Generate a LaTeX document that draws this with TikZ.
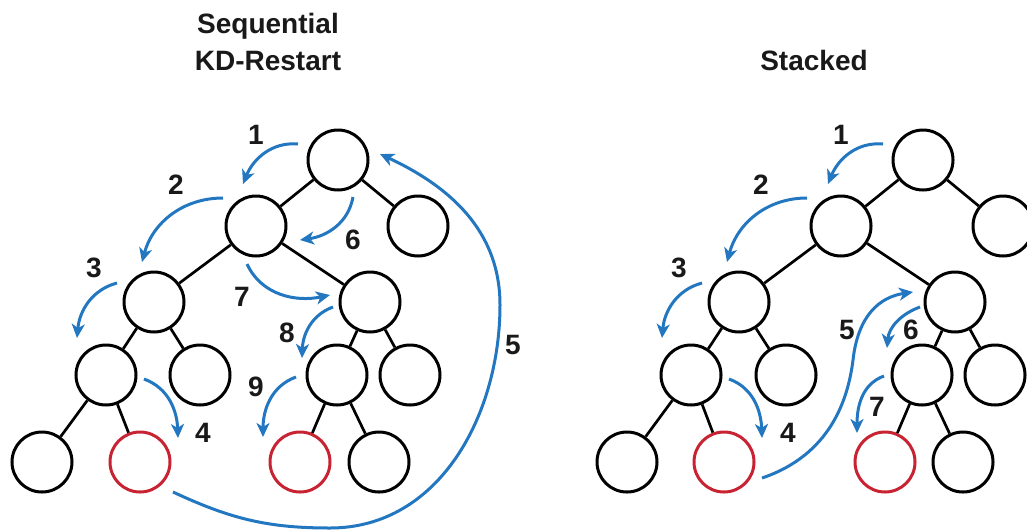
\documentclass[tikz,border=0pt]{standalone}
\usepackage{fontspec}
\setmainfont{Liberation Sans}
\usetikzlibrary{arrows.meta}
\definecolor{arrowblue}{RGB}{34,119,192}
\definecolor{leafred}{RGB}{200,35,50}
\begin{document}
\begin{tikzpicture}[x=1pt,y=1pt,
 tnode/.style={circle,draw=black,line width=3pt,minimum size=60pt,inner sep=0pt},
 rnode/.style={tnode,draw=leafred},
 edge/.style={line width=2.7pt},
 flow/.style={draw=arrowblue,line width=3pt,-{Stealth[length=14pt,width=13pt,inset=4pt]}},
 lbl/.style={font=\fontsize{28}{30}\selectfont\bfseries,text=black!90,inner sep=0pt},
 ttl/.style={font=\fontsize{28}{37}\selectfont\bfseries,align=center,text=black!90}]
\useasboundingbox (0,0) rectangle (1027,-531);
% titles
\node[ttl] (t1) at (268,-42) {Sequential\\KD-Restart};
\node[ttl] (t2) at (814,-60) {Stacked};
% ---------- left tree ----------
\node[tnode] (a0) at (338,-160) {};
\node[tnode] (a1) at (256,-226) {};
\node[tnode] (a2) at (418,-226) {};
\node[tnode] (a3) at (154,-302) {};
\node[tnode] (a4) at (370,-302) {};
\node[tnode] (a5) at (106,-375) {};
\node[tnode] (a6) at (200,-375) {};
\node[tnode] (a7) at (337,-375) {};
\node[tnode] (a8) at (410,-375) {};
\node[tnode] (a9) at (42,-462) {};
\node[rnode] (a10) at (140,-462) {};
\node[rnode] (a11) at (300,-462) {};
\node[tnode] (a12) at (379,-462) {};
\draw[edge] (a0)--(a1) (a0)--(a2) (a1)--(a3) (a1)--(a4) (a3)--(a5) (a3)--(a6)
 (a4)--(a7) (a4)--(a8) (a5)--(a9) (a5)--(a10) (a7)--(a11) (a7)--(a12);
% ---------- right tree ----------
\node[tnode] (b0) at (923,-160) {};
\node[tnode] (b1) at (841,-226) {};
\node[tnode] (b2) at (1003,-226) {};
\node[tnode] (b3) at (739,-302) {};
\node[tnode] (b4) at (955,-302) {};
\node[tnode] (b5) at (691,-375) {};
\node[tnode] (b6) at (786,-375) {};
\node[tnode] (b7) at (922,-375) {};
\node[tnode] (b8) at (995,-375) {};
\node[tnode] (b9) at (627,-462) {};
\node[rnode] (b10) at (724,-462) {};
\node[rnode] (b11) at (885,-462) {};
\node[tnode] (b12) at (963,-462) {};
\draw[edge] (b0)--(b1) (b0)--(b2) (b1)--(b3) (b1)--(b4) (b3)--(b5) (b3)--(b6)
 (b4)--(b7) (b4)--(b8) (b5)--(b9) (b5)--(b10) (b7)--(b11) (b7)--(b12);
% ---------- arrow end points (left) ----------
\coordinate (p1s) at (298,-144); \coordinate (p1e) at (243,-184);
\coordinate (p2s) at (223,-198); \coordinate (p2e) at (142,-262);
\coordinate (p3s) at (117,-283); \coordinate (p3e) at (77,-338);
\coordinate (p4s) at (144,-379); \coordinate (p4e) at (178,-438);
\coordinate (p5s) at (173,-492); \coordinate (p5b) at (330,-528);
\coordinate (p5r) at (500,-305); \coordinate (p5e) at (380,-154);
\coordinate (p6s) at (353,-197); \coordinate (p6e) at (300,-240);
\coordinate (p7s) at (247,-264); \coordinate (p7e) at (330,-295);
\coordinate (p8s) at (333,-307); \coordinate (p8e) at (302,-358);
\coordinate (p9s) at (296,-377); \coordinate (p9e) at (263,-437);
\draw[flow] (p1s) to[out=175,in=68] (p1e);
\draw[flow] (p2s) to[out=180,in=75] (p2e);
\draw[flow] (p3s) to[out=195,in=85] (p3e);
\draw[flow] (p4s) to[out=-20,in=92] (p4e);
\draw[flow] (p5s) to[out=-25,in=180] (p5b) to[out=0,in=-90] (p5r) to[out=90,in=-25] (p5e);
\draw[flow] (p6s) to[out=-100,in=8] (p6e);
\draw[flow] (p7s) to[out=-65,in=192] (p7e);
\draw[flow] (p8s) to[out=200,in=88] (p8e);
\draw[flow] (p9s) to[out=200,in=90] (p9e);
% ---------- arrow end points (right) ----------
\coordinate (q1s) at (883,-144); \coordinate (q1e) at (828,-184);
\coordinate (q2s) at (807,-198); \coordinate (q2e) at (727,-262);
\coordinate (q3s) at (702,-283); \coordinate (q3e) at (662,-338);
\coordinate (q4s) at (729,-379); \coordinate (q4e) at (762,-438);
\coordinate (q5s) at (762,-478); \coordinate (q5m) at (853,-360); \coordinate (q5e) at (913,-292);
\coordinate (q6s) at (920,-307); \coordinate (q6e) at (887,-348);
\coordinate (q7s) at (884,-376); \coordinate (q7e) at (857,-433);
\draw[flow] (q1s) to[out=175,in=68] (q1e);
\draw[flow] (q2s) to[out=180,in=75] (q2e);
\draw[flow] (q3s) to[out=195,in=85] (q3e);
\draw[flow] (q4s) to[out=-20,in=92] (q4e);
\draw[flow] (q5s) .. controls (830,-455) and (848,-400) .. (q5m) .. controls (858,-315) and (880,-297) .. (q5e);
\draw[flow] (q6s) to[out=200,in=85] (q6e);
\draw[flow] (q7s) to[out=200,in=90] (q7e);
% ---------- labels ----------
\node[lbl] (l1) at (256,-135) {1};
\node[lbl] (l2) at (176,-185) {2};
\node[lbl] (l3) at (94,-268) {3};
\node[lbl] (l4) at (203,-433) {4};
\node[lbl] (l5) at (513,-345) {5};
\node[lbl] (l6) at (353,-240) {6};
\node[lbl] (l7) at (242,-297) {7};
\node[lbl] (l8) at (287,-333) {8};
\node[lbl] (l9) at (256,-387) {9};
\node[lbl] (m1) at (841,-135) {1};
\node[lbl] (m2) at (761,-185) {2};
\node[lbl] (m3) at (679,-268) {3};
\node[lbl] (m4) at (788,-433) {4};
\node[lbl] (m5) at (847,-330) {5};
\node[lbl] (m6) at (911,-330) {6};
\node[lbl] (m7) at (877,-407) {7};
\end{tikzpicture}
\end{document}
